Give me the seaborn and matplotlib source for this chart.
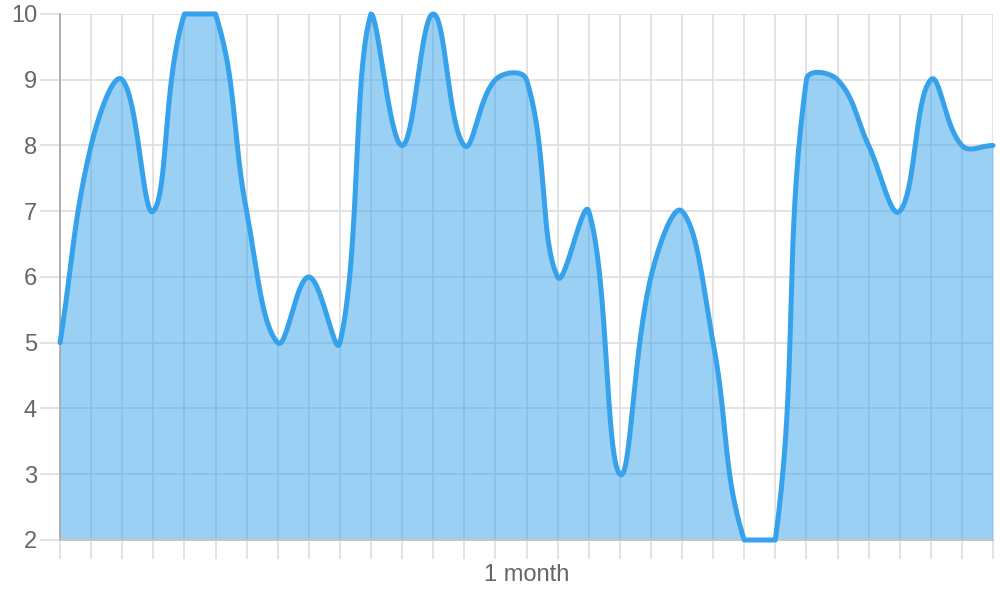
import numpy as np
import seaborn as sns
import matplotlib.pyplot as plt

# Data (one value per day)
days = list(range(31))
values = [5, 8, 9, 7, 10, 10, 7, 5, 6, 5, 10, 8, 10, 8, 9, 9, 6, 7, 3, 6,
          7, 5, 2, 2, 9, 9, 8, 7, 9, 8, 8]
y_ticks = [2, 3, 4, 5, 6, 7, 8, 9, 10]
x_labels = [""] * 15 + ["1 month"] + [""] * 15

LINE = (54 / 255, 162 / 255, 235 / 255)
GRID = "#dedede"
TEXT = "#666666"


def spline(xs, ys, tension=0.4, sx=31.1, sy=65.75, ylo=2, yhi=10, n=40):
    # bezier smoothing like the chart's line tension, done in pixel-like units
    px = np.asarray(xs, float) * sx
    py = np.asarray(ys, float) * sy
    m = len(px)
    cp_prev = np.zeros((m, 2))
    cp_next = np.zeros((m, 2))
    for i in range(m):
        p0 = np.array([px[max(i - 1, 0)], py[max(i - 1, 0)]])
        p1 = np.array([px[i], py[i]])
        p2 = np.array([px[min(i + 1, m - 1)], py[min(i + 1, m - 1)]])
        d01 = np.hypot(*(p1 - p0))
        d12 = np.hypot(*(p2 - p1))
        tot = d01 + d12
        s01 = d01 / tot if tot else 0
        s12 = d12 / tot if tot else 0
        cp_prev[i] = p1 - tension * s01 * (p2 - p0)
        cp_next[i] = p1 + tension * s12 * (p2 - p0)
    for cp in (cp_prev, cp_next):
        cp[:, 0] = np.clip(cp[:, 0], px[0], px[-1])
        cp[:, 1] = np.clip(cp[:, 1], ylo * sy, yhi * sy)
    out_x, out_y = [], []
    t = np.linspace(0, 1, n, endpoint=False)[:, None]
    for i in range(m - 1):
        a = np.array([px[i], py[i]])
        b = cp_next[i]
        c = cp_prev[i + 1]
        d = np.array([px[i + 1], py[i + 1]])
        pts = ((1 - t) ** 3) * a + 3 * ((1 - t) ** 2) * t * b + 3 * (1 - t) * t ** 2 * c + t ** 3 * d
        out_x.extend(pts[:, 0])
        out_y.extend(pts[:, 1])
    out_x.append(px[-1])
    out_y.append(py[-1])
    return np.array(out_x) / sx, np.array(out_y) / sy


sns.set_theme(style="whitegrid")
plt.rcParams['font.family'] = ['Liberation Sans', 'DejaVu Sans']

fig = plt.figure(figsize=(10, 6), dpi=100)
ax = fig.add_axes([0.06, 0.1, 0.933, 0.8767])

cx, cy = spline(days, values)
ax.fill_between(cx, cy, 2, color=LINE, alpha=0.5, linewidth=0, zorder=2)
sns.lineplot(x=cx, y=cy, ax=ax, color=LINE, linewidth=3.6, estimator=None,
             sort=False, clip_on=False, zorder=3)

ax.set_xlim(0, 30)
ax.set_ylim(2, 10)
ax.set_xticks(days)
ax.set_xticklabels(x_labels)
ax.set_yticks(y_ticks)
ax.set_yticklabels([str(v) for v in y_ticks])
ax.set_xlabel("")
ax.set_ylabel("")

ax.grid(True, color=GRID, linewidth=1.2)
ax.set_axisbelow(True)
ax.tick_params(axis="both", left=True, bottom=True, color=GRID, width=1.2,
               labelsize=17, labelcolor=TEXT)
ax.tick_params(axis="y", length=14.5, pad=2)
ax.tick_params(axis="x", length=14, pad=3)

for side in ("top", "right"):
    ax.spines[side].set_visible(False)
ax.spines["left"].set_color("#aaaaaa")
ax.spines["left"].set_linewidth(1.3)
ax.spines["bottom"].set_color("#c4c4c4")
ax.spines["bottom"].set_linewidth(1.3)
ax.set_facecolor("white")

fig.savefig("out.png", dpi=100)
